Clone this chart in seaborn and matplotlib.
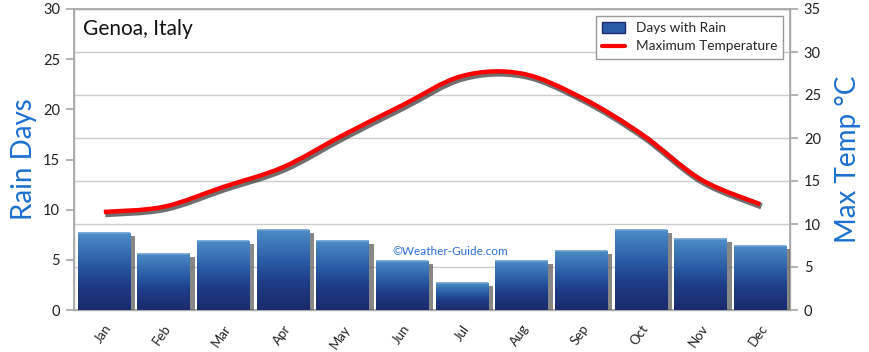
import numpy as np
import pandas as pd
import matplotlib
matplotlib.use("Agg")
import matplotlib.pyplot as plt
import seaborn as sns
from matplotlib import patheffects as pe
from matplotlib.colors import LinearSegmentedColormap
from matplotlib.path import Path
from matplotlib.patches import PathPatch, Patch
from matplotlib.lines import Line2D

months = ["Jan", "Feb", "Mar", "Apr", "May", "Jun",
          "Jul", "Aug", "Sep", "Oct", "Nov", "Dec"]
rain_days = [7.65, 5.6, 6.85, 8.0, 6.9, 4.9, 2.7, 4.9, 5.9, 8.0, 7.05, 6.4]
max_temp = [11.4, 12.0, 14.3, 16.6, 20.3, 23.8, 27.2, 27.5, 24.7, 20.5, 15.2, 12.3]
left_ticks = [0, 5, 10, 15, 20, 25, 30]
right_ticks = [0, 5, 10, 15, 20, 25, 30, 35]

sns.set_theme(style="white")
plt.rcParams['font.family'] = ['Lato', 'DejaVu Sans']

W, H = 870, 352
fig = plt.figure(figsize=(W / 100, H / 100), dpi=100)
ax = fig.add_axes([74 / W, 42 / H, 716 / W, 301 / H])
ax2 = ax.twinx()

df = pd.DataFrame({"Month": months, "Rain": rain_days, "Temp": max_temp})

# bars on ax (drawn above ax2 so grid sits behind bars)
ax.set_zorder(ax2.get_zorder() + 1)
ax.patch.set_visible(False)
sns.barplot(data=df, x="Month", y="Rain", ax=ax, color="#2a55a0",
            width=0.88, saturation=1, linewidth=0, zorder=3)

cmap = LinearSegmentedColormap.from_list(
    "bar", [(0.0, "#1a2b6c"), (0.35, "#1f3d88"), (0.6, "#2a5ba5"), (1.0, "#4d8cc6")])
grad = np.linspace(0, 1, 100).reshape(-1, 1)
for p in ax.patches:
    p.set_path_effects([pe.SimplePatchShadow(offset=(3.5, -2), shadow_rgbFace="#555555", alpha=0.7),
                        pe.Normal()])
    x0, y0 = p.get_x(), p.get_y()
    w, h = p.get_width(), p.get_height()
    im = ax.imshow(grad, extent=[x0, x0 + w, y0, y0 + h], origin="lower",
                   aspect="auto", cmap=cmap, zorder=4, interpolation="bilinear")
    im.set_clip_path(p)
    ax.plot([x0, x0 + w], [y0 + h, y0 + h], color="#6a9fd2", lw=1.2, zorder=5,
            solid_capstyle="butt")

ax.set_xlim(-0.5, 11.5)
ax.set_ylim(0, 30)
ax.set_yticks(left_ticks)
ax.set_xticks(range(12))
ax.set_xticklabels(months, rotation=55, ha="right", rotation_mode="anchor", fontsize=9.5)
ax.set_xticks(np.arange(-0.5, 12, 1), minor=True)
ax.tick_params(axis="x", which="major", length=0, pad=9)
ax.tick_params(axis="x", which="minor", length=5, color="#aaaaaa", width=1, direction="out")
ax.tick_params(axis="y", left=True, length=6, color="#aaaaaa", labelsize=10.5, pad=4, labelcolor="#222222")
ax.tick_params(axis="x", labelcolor="#222222")
ax.set_xlabel("")
ax.set_ylabel("Rain Days", fontsize=20, color="#1a6fd0", labelpad=4)
for s in ax.spines.values():
    s.set_color("#aaaaaa")
    s.set_linewidth(1)

# temperature on right axis
ax2.set_ylim(0, 35)
ax2.set_yticks(right_ticks)
ax2.tick_params(axis="y", right=True, length=6, color="#aaaaaa", labelsize=10.5, pad=4, labelcolor="#222222")
ax2.yaxis.grid(True, color="#cccccc", linewidth=1)
ax2.set_axisbelow(True)
ax2.set_ylabel("Max Temp °C", fontsize=20, color="#1a6fd0", labelpad=10)
for s in ax2.spines.values():
    s.set_color("#aaaaaa")

# smooth curve through the temperature points (Catmull-Rom -> Bezier)
xs = np.arange(len(max_temp), dtype=float)
ys = np.asarray(max_temp, dtype=float)
pts = np.column_stack([xs, ys])
ext = np.vstack([pts[0], pts, pts[-1]])
verts = [tuple(pts[0])]
codes = [Path.MOVETO]
for i in range(1, len(ext) - 2):
    p0, p1, p2, p3 = ext[i - 1], ext[i], ext[i + 1], ext[i + 2]
    c1 = p1 + (p2 - p0) / 6.0
    c2 = p2 - (p3 - p1) / 6.0
    verts += [tuple(c1), tuple(c2), tuple(p2)]
    codes += [Path.CURVE4] * 3
curve = PathPatch(Path(verts, codes), fill=False, edgecolor="#ff0000", lw=3.2,
                  capstyle="butt", joinstyle="round", zorder=5)
curve.set_path_effects([pe.SimpleLineShadow(offset=(1, -1.5), shadow_color="#222222",
                                            alpha=0.65, linewidth=4.6),
                        pe.Normal()])
ax2.add_patch(curve)

# title & watermark
ax.text(0.013, 0.935, "Genoa, Italy", transform=ax.transAxes, fontsize=15,
        color="#111111", ha="left", va="center", zorder=10)
ax.text(0.444, 0.193, "©Weather-Guide.com", transform=ax.transAxes, fontsize=8.5,
        color="#2a6fd6", ha="left", va="center", zorder=10)

handles = [Patch(facecolor="#2a5ca6", edgecolor="#1b2d70", label="Days with Rain"),
           Line2D([0], [0], color="#ff0000", lw=3, label="Maximum Temperature")]
leg = ax.legend(handles=handles, loc="upper right", bbox_to_anchor=(0.9945, 0.985),
                fontsize=9.8, frameon=True, fancybox=False, framealpha=1,
                edgecolor="#999999", handlelength=1.7, handleheight=0.8,
                borderpad=0.45, labelspacing=0.45, borderaxespad=0.2)
leg.get_frame().set_linewidth(1)
leg.set_zorder(20)

fig.savefig("out.png", dpi=100)
